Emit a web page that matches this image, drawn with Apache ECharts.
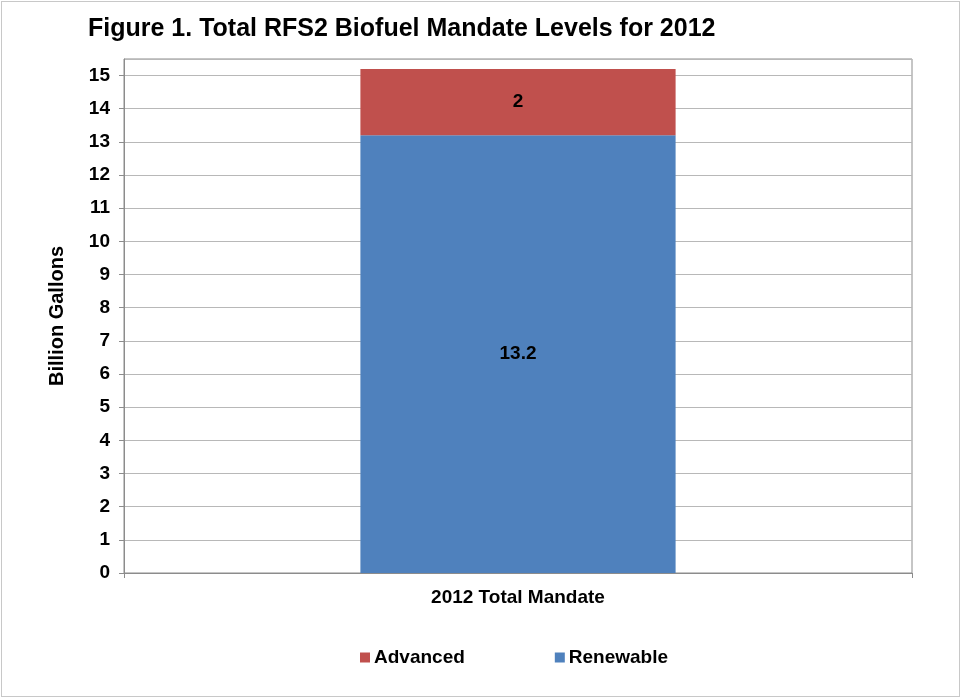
<!DOCTYPE html>
<html>
<head>
<meta charset="utf-8">
<script src="https://cdn.jsdelivr.net/npm/echarts@6/dist/echarts.min.js"></script>
<style>
  html, body { margin: 0; padding: 0; background: #fff; }
  #frame { position: absolute; left: 1px; top: 1px; width: 957px; height: 694px; border: 1px solid #c8c8c8; }
  #chart { position: absolute; left: 0; top: 0; width: 961px; height: 698px; }
</style>
</head>
<body>
<div id="frame"></div>
<div id="chart"></div>
<script>
// Mandate categories and volumes (billion gallons)
const categories = ['2012 Total Mandate'];
const renewable = [13.2];
const advanced = [2];
const yTicks = [0, 1, 2, 3, 4, 5, 6, 7, 8, 9, 10, 11, 12, 13, 14, 15];

const FONT = '"Liberation Sans", Arial, sans-serif';
const chart = echarts.init(document.getElementById('chart'), null, { renderer: 'canvas' });

const labelStyle = {
  show: true,
  position: 'inside',
  color: '#000',
  fontFamily: FONT,
  fontWeight: 'bold',
  fontSize: 19,
  formatter: p => String(p.value)
};

chart.setOption({
  animation: false,
  backgroundColor: 'transparent',
  title: {
    text: 'Figure 1. Total RFS2 Biofuel Mandate Levels for 2012',
    left: 83,
    top: 12,
    textStyle: { fontFamily: FONT, fontWeight: 'bold', fontSize: 25, color: '#000' }
  },
  legend: {
    data: ['Advanced', 'Renewable'],
    bottom: 26,
    left: 355,
    itemGap: 90,
    itemWidth: 10,
    itemHeight: 10,
    icon: 'rect',
    textStyle: { fontFamily: FONT, fontWeight: 'bold', fontSize: 19, color: '#000', padding: [0, 0, 0, -1] }
  },
  grid: { left: 124, right: 49, top: 59, bottom: 125, show: true, borderColor: '#8c8c8c', borderWidth: 1, containLabel: false },
  xAxis: {
    type: 'category',
    data: categories,
    axisLine: { show: true, lineStyle: { color: '#8c8c8c' } },
    axisTick: { show: true, alignWithLabel: false, length: 5, lineStyle: { color: '#8c8c8c' } },
    axisLabel: { margin: 15, color: '#000', fontFamily: FONT, fontWeight: 'bold', fontSize: 19 }
  },
  yAxis: {
    type: 'value',
    min: 0,
    max: 15.5,
    interval: 1,
    name: 'Billion Gallons',
    nameLocation: 'middle',
    nameGap: 57,
    nameRotate: 90,
    nameTextStyle: { fontFamily: FONT, fontWeight: 'bold', fontSize: 20, color: '#000' },
    axisLine: { show: true, lineStyle: { color: '#8c8c8c' } },
    axisTick: { show: true, length: 5, inside: false, lineStyle: { color: '#8c8c8c' } },
    splitLine: { show: true, lineStyle: { color: '#b8b8b8', width: 1 } },
    axisLabel: {
      showMaxLabel: false,
      margin: 14,
      color: '#000',
      fontFamily: FONT,
      fontWeight: 'bold',
      fontSize: 19,
      formatter: v => (yTicks.indexOf(v) >= 0 ? String(v) : '')
    }
  },
  series: [
    {
      name: 'Renewable',
      type: 'bar',
      stack: 'total',
      data: renewable,
      barWidth: '40%',
      itemStyle: { color: '#4F81BD' },
      label: labelStyle
    },
    {
      name: 'Advanced',
      type: 'bar',
      stack: 'total',
      data: advanced,
      barWidth: '40%',
      itemStyle: { color: '#C0504D' },
      label: labelStyle
    }
  ]
});
</script>
</body>
</html>
